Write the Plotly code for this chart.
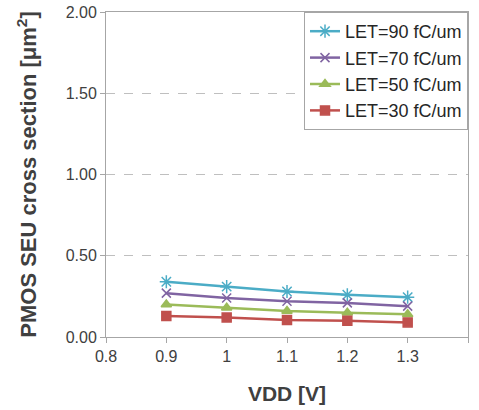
import plotly.graph_objects as go

vdd = [0.9, 1.0, 1.1, 1.2, 1.3]
let90 = [0.34, 0.31, 0.28, 0.26, 0.245]
let70 = [0.27, 0.24, 0.22, 0.21, 0.19]
let50 = [0.20, 0.18, 0.16, 0.15, 0.14]
let30 = [0.13, 0.12, 0.105, 0.10, 0.09]

series = [
    ("LET=90 fC/um", let90, "#4BACC6", "asterisk-open", 11),
    ("LET=70 fC/um", let70, "#8064A2", "x-thin-open", 9),
    ("LET=50 fC/um", let50, "#9BBB59", "triangle-up", 9),
    ("LET=30 fC/um", let30, "#C0504D", "square", 9),
]

fig = go.Figure()
for name, vals, col, sym, sz in series:
    fig.add_trace(go.Scatter(
        x=vdd, y=vals, name=name, mode="lines+markers",
        line=dict(color=col, width=2.5),
        marker=dict(symbol=sym, size=sz, color=col, line=dict(color=col, width=1.5)),
    ))

axis_common = dict(
    showline=True, linecolor="#A6A6A6", linewidth=1, mirror=True,
    ticks="outside", tickcolor="#A6A6A6", ticklen=5,
    tickfont=dict(family="Liberation Sans, Arial", size=16, color="#404040"),
    zeroline=False, automargin=False,
)

fig.update_layout(
    width=479, height=410,
    margin=dict(l=106, r=11, t=12, b=73),
    paper_bgcolor="white", plot_bgcolor="white",
    font=dict(family="Liberation Sans, Arial", color="#404040"),
    xaxis=dict(
        range=[0.8, 1.4], tick0=0.8, dtick=0.1, showgrid=False,
        title=dict(text="<b>VDD [V]</b>", font=dict(size=21, color="#404040"), standoff=22),
        **axis_common,
    ),
    yaxis=dict(
        range=[0, 2], tick0=0, dtick=0.5, tickformat=".2f",
        showgrid=True, gridcolor="#BFBFBF", griddash="dash", gridwidth=1,
        title=dict(text="<b>PMOS SEU cross section [μm<sup>2</sup>]</b>", font=dict(size=22, color="#404040"), standoff=22),
        **axis_common,
    ),
    legend=dict(
        x=1, xanchor="right", y=1, yanchor="top",
        bgcolor="white", bordercolor="#A6A6A6", borderwidth=1,
        font=dict(size=18, color="#262626"),
        tracegroupgap=0,
    ),
    showlegend=True,
)

fig.write_html("out.html")
